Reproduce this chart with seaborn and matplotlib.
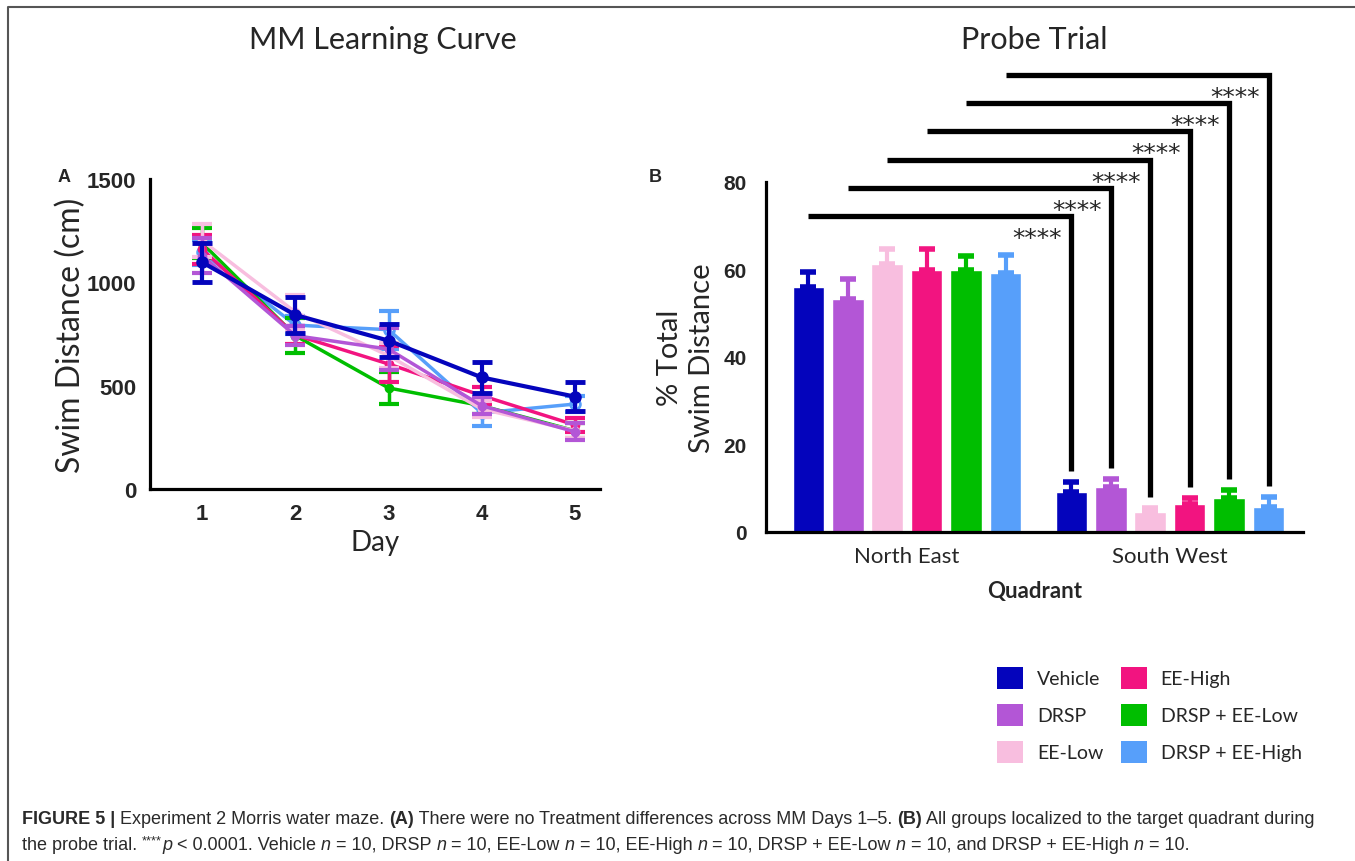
import numpy as np
import pandas as pd
import matplotlib
matplotlib.use("Agg")
import matplotlib.pyplot as plt
import seaborn as sns
from matplotlib.patches import Patch
from matplotlib.lines import Line2D

# ---- data ----
groups = ["Vehicle", "DRSP", "EE-Low", "EE-High", "DRSP + EE-Low", "DRSP + EE-High"]
colors = ["#0404BC", "#B356D6", "#F8BEDF", "#F21480", "#00BE00", "#579FFA"]

days = [1, 2, 3, 4, 5]
dist_vehicle = [1097, 842, 718, 540, 447]
dist_drsp = [1129, 742, 677, 403, 277]
dist_ee_low = [1202, 856, 645, 387, 282]
dist_ee_high = [1160, 745, 605, 452, 310]
dist_drsp_ee_low = [1190, 742, 489, 403, 282]
dist_drsp_ee_high = [1146, 793, 771, 368, 411]

sem_vehicle = [93, 85, 80, 75, 70]
sem_drsp = [85, 45, 100, 40, 40]
sem_ee_low = [80, 85, 60, 40, 35]
sem_ee_high = [70, 45, 88, 40, 35]
sem_drsp_ee_low = [72, 85, 78, 40, 35]
sem_drsp_ee_high = [60, 45, 92, 65, 40]

quadrants = ["North East", "South West"]
ne_pct = [56.0, 53.3, 61.2, 60.0, 59.9, 59.2]
ne_sem = [3.4, 4.5, 3.5, 4.7, 3.3, 4.1]
sw_pct = [9.1, 10.4, 4.6, 6.4, 7.8, 5.8]
sw_sem = [2.3, 1.7, 0.9, 1.4, 1.9, 2.2]
stars = ["****"] * 6

dist_all = [dist_vehicle, dist_drsp, dist_ee_low, dist_ee_high, dist_drsp_ee_low, dist_drsp_ee_high]
sem_all = [sem_vehicle, sem_drsp, sem_ee_low, sem_ee_high, sem_drsp_ee_low, sem_drsp_ee_high]

sns.set_style("white")
plt.rcParams["font.family"] = ["Lato", "DejaVu Sans"]

fig = plt.figure(figsize=(13.55, 8.62), dpi=100)

# ---- panel A: learning curve ----
axA = fig.add_axes([150 / 1355, 1 - 490 / 862, 450 / 1355, 310 / 862])
df_a = pd.DataFrame({
    "Day": days * len(groups),
    "Dist": sum(dist_all, []),
    "Group": np.repeat(groups, len(days)),
})
draw_order = [5, 4, 3, 2, 1, 0]
for i in draw_order:
    sub = df_a[df_a["Group"] == groups[i]]
    lw = 3 if i == 0 else 2.5
    sns.lineplot(data=sub, x="Day", y="Dist", color=colors[i], lw=lw, ax=axA,
                 marker="o", markersize=7 if i in (0, 5) else 5,
                 markerfacecolor="none" if i == 5 else colors[i],
                 markeredgecolor=colors[i], markeredgewidth=2, zorder=3 + (6 - i))
    axA.errorbar(days, dist_all[i], yerr=sem_all[i], fmt="none", ecolor=colors[i],
                 elinewidth=lw, capsize=7, capthick=lw + 0.5, zorder=3 + (6 - i))

axA.set_xlim(0.44, 5.27)
axA.set_ylim(0, 1500)
axA.set_xticks(days)
axA.set_yticks([0, 500, 1000, 1500])
axA.set_xlabel("Day", fontsize=20, labelpad=4)
axA.set_ylabel("Swim Distance (cm)", fontsize=23, labelpad=0)
for lab in axA.get_xticklabels() + axA.get_yticklabels():
    lab.set_fontfamily("Liberation Sans")
    lab.set_fontweight("bold")
    lab.set_fontsize(16)
axA.tick_params(axis="both", direction="out", length=8, width=2, color="black", pad=2)
for side in ["top", "right"]:
    axA.spines[side].set_visible(False)
for side in ["left", "bottom"]:
    axA.spines[side].set_linewidth(2.3)
    axA.spines[side].set_color("black")

# ---- panel B: probe trial ----
axB = fig.add_axes([766 / 1355, 1 - 533 / 862, 537 / 1355, 350 / 862])
df_b = pd.DataFrame({
    "Quadrant": np.repeat(quadrants, len(groups)),
    "Group": groups * 2,
    "Pct": ne_pct + sw_pct,
})
sns.barplot(data=df_b, x="Quadrant", y="Pct", hue="Group", hue_order=groups,
            palette=colors, errorbar=None, width=0.9, gap=0.2, saturation=1,
            legend=False, ax=axB)

bar_conts = list(axB.containers)
sems = [ne_sem, sw_sem]
centers = []
for i, cont in enumerate(bar_conts):
    xs = [b.get_x() + b.get_width() / 2 for b in cont]
    hs = [b.get_height() for b in cont]
    centers.append(xs)
    errs = [sems[j][i] for j in range(len(quadrants))]
    axB.errorbar(xs, hs, yerr=[[0] * len(xs), errs], fmt="none", ecolor=colors[i],
                 elinewidth=3, capsize=6, capthick=4, zorder=1)

# significance brackets NE vs SW for each group
for i in range(len(groups)):
    xl, xr = centers[i]
    y_top = 72.2 + 6.45 * i
    y_bot = sw_pct[i] + sw_sem[i] + 2.5
    axB.plot([xl, xr, xr], [y_top, y_top, y_bot], color="black", lw=3.8,
             clip_on=False, solid_joinstyle="miter", solid_capstyle="butt")
    axB.text(xr - 0.035, y_top - 5.0, stars[i], ha="right", va="center",
             fontsize=18, fontfamily="DejaVu Sans", clip_on=False)

axB.set_xlim(-0.536, 1.506)
axB.set_ylim(0, 80)
axB.set_yticks([0, 20, 40, 60, 80])
axB.set_xlabel("Quadrant", fontsize=16, fontweight="bold", labelpad=10)
axB.set_ylabel("% Total\nSwim Distance", fontsize=21, labelpad=6, linespacing=1.3)
for lab in axB.get_yticklabels():
    lab.set_fontfamily("Liberation Sans")
    lab.set_fontweight("bold")
    lab.set_fontsize(15)
for lab in axB.get_xticklabels():
    lab.set_fontsize(16)
axB.tick_params(axis="y", direction="out", length=8, width=2, color="black", pad=6)
axB.tick_params(axis="x", length=0, pad=10)
for side in ["top", "right"]:
    axB.spines[side].set_visible(False)
for side in ["left", "bottom"]:
    axB.spines[side].set_linewidth(2.3)
    axB.spines[side].set_color("black")

# ---- titles and panel letters ----
fig.text(383 / 1355, 1 - 40 / 862, "MM Learning Curve", ha="center", va="center", fontsize=22)
fig.text(1034 / 1355, 1 - 40 / 862, "Probe Trial", ha="center", va="center", fontsize=22)
fig.text(58 / 1355, 1 - 177 / 862, "A", ha="left", va="center", fontsize=13,
         fontweight="bold", fontfamily="Liberation Sans")
fig.text(649 / 1355, 1 - 177 / 862, "B", ha="left", va="center", fontsize=13,
         fontweight="bold", fontfamily="Liberation Sans")

# ---- legend ----
handles = [Patch(facecolor=c, edgecolor="none", label=g) for g, c in zip(groups, colors)]
fig.legend(handles=handles, ncol=2, loc="upper left",
           bbox_to_anchor=(997 / 1355, 1 - 668 / 862), frameon=False, fontsize=14,
           handlelength=1.35, handleheight=1.35, labelspacing=0.78,
           handletextpad=0.7, columnspacing=0.9, borderpad=0, borderaxespad=0)

# ---- frame ----
fig.add_artist(Line2D([8 / 1355, 8 / 1355, 1.0], [0.0, 1 - 8 / 862, 1 - 8 / 862],
                      transform=fig.transFigure, color="#555555", lw=1.5))

# ---- caption ----
cap_font = ["Liberation Sans Narrow", "Liberation Sans", "DejaVu Sans"]
cap_size = 13

line1 = [("FIGURE 5 | ", "b"), ("Experiment 2 Morris water maze. ", ""), ("(A)", "b"),
         (" There were no Treatment differences across MM Days 1\u20135. ", ""), ("(B)", "b"),
         (" All groups localized to the target quadrant during", "")]
line2 = [("the probe trial. ", ""), ("****", "sup"), ("p", "i"), (" < 0.0001. Vehicle ", ""),
         ("n", "i"), (" = 10, DRSP ", ""), ("n", "i"), (" = 10, EE-Low ", ""), ("n", "i"),
         (" = 10, EE-High ", ""), ("n", "i"), (" = 10, DRSP + EE-Low ", ""), ("n", "i"),
         (" = 10, and DRSP + EE-High ", ""), ("n", "i"), (" = 10.", "")]


def place_line(pieces, x, y):
    # lay pieces out left to right, measuring each with the renderer
    fig.canvas.draw()
    r = fig.canvas.get_renderer()
    cur = x
    for txt, style in pieces:
        kw = dict(fontsize=cap_size, family=cap_font, color="#2a2a2a")
        yy = y
        if style == "b":
            kw["fontweight"] = "bold"
        elif style == "i":
            kw["fontstyle"] = "italic"
        elif style == "sup":
            kw["fontsize"] = cap_size * 0.7
            yy = y + 6 / 862
        t = fig.text(cur, yy, txt, ha="left", va="baseline", **kw)
        bb = t.get_window_extent(renderer=r)
        cur += bb.width / fig.bbox.width


place_line(line1, 22 / 1355, 1 - 824 / 862)
place_line(line2, 22 / 1355, 1 - 850 / 862)

fig.savefig("out.png", dpi=100)
